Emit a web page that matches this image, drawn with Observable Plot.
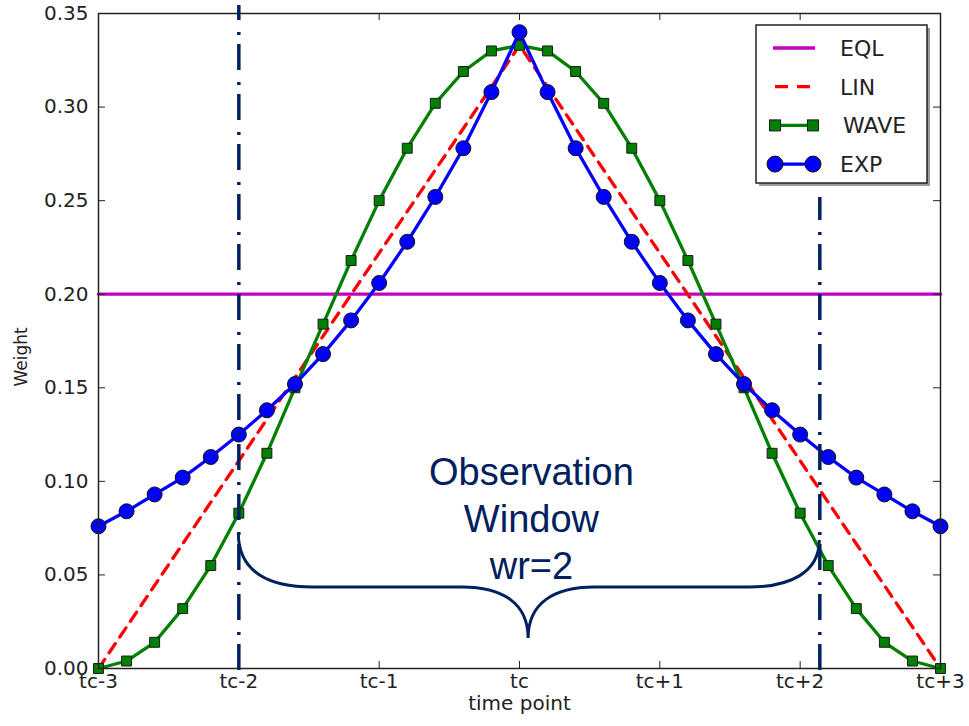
<!DOCTYPE html>
<html><head><meta charset="utf-8">
<script src="https://cdn.jsdelivr.net/npm/d3@7"></script>
<script src="https://cdn.jsdelivr.net/npm/@observablehq/plot@0.6"></script>
<style>
body{margin:0;background:#fff;}
#wrap{position:relative;width:969px;height:726px;overflow:hidden;}
#legend{position:absolute;left:748px;top:18px;}
</style></head>
<body><div id="wrap"></div>
<script>
// ---- data ----
const timePoints = [-3,-2.8,-2.6,-2.4,-2.2,-2,-1.8,-1.6,-1.4,-1.2,-1,-0.8,-0.6,-0.4,-0.2,0,0.2,0.4,0.6,0.8,1,1.2,1.4,1.6,1.8,2,2.2,2.4,2.6,2.8,3];
const expWeights = [0.076,0.084,0.093,0.102,0.113,0.125,0.138,0.152,0.168,0.186,0.206,0.228,0.252,0.278,0.308,0.340,0.308,0.278,0.252,0.228,0.206,0.186,0.168,0.152,0.138,0.125,0.113,0.102,0.093,0.084,0.076];
const waveWeights = [0.000,0.004,0.014,0.032,0.055,0.083,0.115,0.150,0.184,0.218,0.250,0.278,0.302,0.319,0.330,0.333,0.330,0.319,0.302,0.278,0.250,0.218,0.184,0.150,0.115,0.083,0.055,0.032,0.014,0.004,0.000];
const linPoints = [-3,0,3];
const linWeights = [0,0.333,0];
const eqlPoints = [-3,3];
const eqlWeights = [0.2,0.2];
const xTickValues = [-3,-2,-1,0,1,2,3];
const xTickLabels = ["tc-3","tc-2","tc-1","tc","tc+1","tc+2","tc+3"];
const yTickValues = [0,0.05,0.10,0.15,0.20,0.25,0.30,0.35];
const seriesNames = ["EQL","LIN","WAVE","EXP"];
const windowEdgeX = [-2.0, 2.14];
const windowEdgeTop = [0.3543, 0.2517];
const windowEdgeBottom = [-0.0011, -0.0011];
const braceX = [-2.0, 0.065, 2.14];       // left end, tip, right end
const braceEndY = [0.0721, 0.0684];       // left end, right end
const braceBarY = 0.0433;
const braceTipY = 0.0160;
const noteText = "Observation\nWindow\nwr=2";
const notePos = {x: 0.085, y: 0.081};
const yLabelPos = 0.1665;

// ---- tables ----
const series = timePoints.map((t,i)=>({t, exp: expWeights[i], wave: waveWeights[i]}));
const lin = linPoints.map((t,i)=>({t, w: linWeights[i]}));
const eql = eqlPoints.map((t,i)=>({t, w: eqlWeights[i]}));
const edges = windowEdgeX.map((x,i)=>({x, y1: windowEdgeBottom[i], y2: windowEdgeTop[i]}));

const W = 969, H = 726, mL = 98, mR = 29, mT = 13, mB = 58;
const plotW = W - mL - mR, plotH = H - mT - mB;
const navy = "#002060";

const braceMark = (index, scales) => {
  const x = scales.x, y = scales.y;
  const xl = x(braceX[0]), xm = x(braceX[1]), xr = x(braceX[2]);
  const yl = y(braceEndY[0]), yr = y(braceEndY[1]), yb = y(braceBarY), yt = y(braceTipY);
  const p = d3.path();
  p.moveTo(xl, yl);
  p.bezierCurveTo(xl, yb - 14, xl + 32, yb, xl + 74, yb);
  p.lineTo(xm - 66, yb);
  p.bezierCurveTo(xm - 26, yb, xm, yb + 16, xm, yt);
  p.bezierCurveTo(xm, yb + 16, xm + 26, yb, xm + 66, yb);
  p.lineTo(xr - 70, yb);
  p.bezierCurveTo(xr - 30, yb, xr, yb - 14, xr, yr);
  return d3.create("svg:path").attr("d", p.toString()).attr("fill","none")
    .attr("stroke", navy).attr("stroke-width", 3).node();
};

const chart = Plot.plot({
  width: W, height: H, marginLeft: mL, marginRight: mR, marginTop: mT, marginBottom: mB,
  x: {domain: [-3, 3]},
  y: {domain: [0, 0.35]},
  style: {fontFamily: "DejaVu Sans", color: "#222", background: "#fff", overflow: "visible"},
  marks: [
    Plot.line(eql, {x: "t", y: "w", stroke: "#bf00bf", strokeWidth: 3.3}),
    Plot.line(lin, {x: "t", y: "w", stroke: "#ff0000", strokeWidth: 3.3, strokeDasharray: "11,8"}),
    Plot.line(series, {x: "t", y: "wave", stroke: "#008000", strokeWidth: 3.3}),
    Plot.dot(series, {x: "t", y: "wave", symbol: "square", r: 5.6, fill: "#008000", stroke: "#1a1a1a", strokeWidth: 1}),
    Plot.line(series, {x: "t", y: "exp", stroke: "#0000ff", strokeWidth: 3.3}),
    Plot.dot(series, {x: "t", y: "exp", r: 7.5, fill: "#0000ff", stroke: "#111", strokeWidth: 1}),
    Plot.frame({stroke: "#222", strokeWidth: 1.5}),
    Plot.tickY(yTickValues, {y: d => d, insetRight: plotW - 7, stroke: "#222"}),
    Plot.tickY(yTickValues, {y: d => d, insetLeft: plotW - 7, stroke: "#222"}),
    Plot.tickX(xTickValues, {x: d => d, insetTop: plotH - 7, stroke: "#222"}),
    Plot.tickX(xTickValues, {x: d => d, insetBottom: plotH - 7, stroke: "#222"}),
    Plot.axisY(yTickValues, {tickSize: 0, tickPadding: 10, tickFormat: d => d.toFixed(2), fontSize: 20, label: null}),
    Plot.axisX(xTickValues, {tickSize: 0, tickPadding: 5, tickFormat: d => xTickLabels[xTickValues.indexOf(d)], fontSize: 20, label: null}),
    Plot.text(["Weight"], {text: d => d, x: () => -3, y: () => yLabelPos, dx: -77, rotate: -90, fontSize: 17}),
    Plot.text(["time point"], {text: d => d, frameAnchor: "bottom", dy: 41, fontSize: 20}),
    Plot.ruleX(edges, {x: "x", y1: "y1", y2: "y2", stroke: navy, strokeWidth: 3.5, strokeDasharray: "26,9,3,12"}),
    braceMark,
    Plot.text([noteText], {x: () => notePos.x, y: () => notePos.y, text: d => d, fontSize: 38, lineHeight: 1.24,
      fill: navy, fontFamily: "Liberation Sans"})
  ]
});
const wrap = document.getElementById("wrap");
wrap.appendChild(chart);

// ---- legend ----
const legendColors = ["#bf00bf","#ff0000","#008000","#0000ff"];
const lg = d3.select(wrap).append("svg").attr("id","legend").attr("width", 190).attr("height", 175);
const bx = 8, by = 7, bw = 171, bh = 158;
lg.append("rect").attr("x", bx + 3).attr("y", by + 3).attr("width", bw).attr("height", bh).attr("fill", "#9a9a9a");
lg.append("rect").attr("x", bx).attr("y", by).attr("width", bw).attr("height", bh).attr("fill", "#fff").attr("stroke", "#222").attr("stroke-width", 1.5);
seriesNames.forEach((name, i) => {
  const cy = by + 23 + i * 38.7;
  const x1 = bx + 19, x2 = bx + 57;
  const g = lg.append("g");
  const ln = g.append("line").attr("x1", name === "EQL" ? x1 - 2 : x1).attr("x2", name === "EQL" ? x2 + 2 : x2)
    .attr("y1", cy).attr("y2", cy).attr("stroke", legendColors[i]).attr("stroke-width", 3.3);
  if (name === "LIN") ln.attr("stroke-dasharray", "13,9");
  if (name === "WAVE") [x1, x2].forEach(x => g.append("rect").attr("x", x - 5.5).attr("y", cy - 5.5).attr("width", 11).attr("height", 11)
    .attr("fill", legendColors[i]).attr("stroke", "#1a1a1a"));
  if (name === "EXP") [x1, x2].forEach(x => g.append("circle").attr("cx", x).attr("cy", cy).attr("r", 8)
    .attr("fill", legendColors[i]).attr("stroke", "#111"));
  g.append("text").attr("x", bx + (name === "WAVE" ? 87 : 84)).attr("y", cy + 8).text(name)
    .attr("font-family", "DejaVu Sans").attr("font-size", 22).attr("fill", "#222");
});
</script></body></html>
